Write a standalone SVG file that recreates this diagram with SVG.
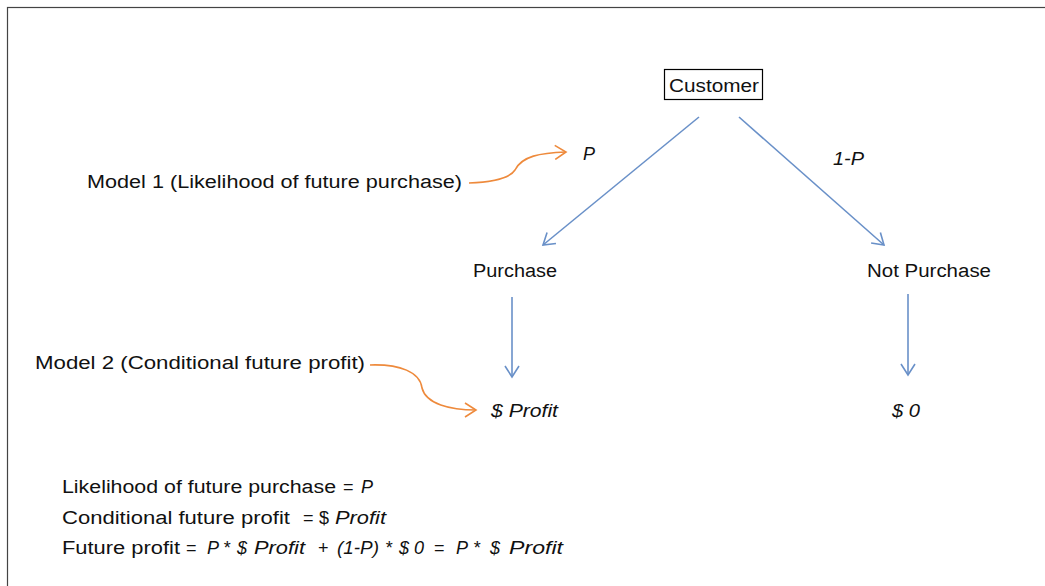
<svg xmlns="http://www.w3.org/2000/svg" width="1045" height="586" viewBox="0 0 1045 586">
<defs>
<style>
text{font-family:"Liberation Sans",Arial,sans-serif;font-size:18px;fill:#111}
.it{font-style:italic}
.blue{stroke:#6990c8;stroke-width:1.6;fill:none}
.orange{stroke:#ee8a3c;stroke-width:1.6;fill:none}
</style>
<marker id="ab" markerWidth="16" markerHeight="16" refX="12" refY="8" orient="auto" markerUnits="userSpaceOnUse">
<path d="M1,1 L12,8 L1,15" fill="none" stroke="#6990c8" stroke-width="1.6"/>
</marker>
<marker id="ao" markerWidth="16" markerHeight="16" refX="12" refY="8" orient="auto" markerUnits="userSpaceOnUse">
<path d="M1,1 L12,8 L1,15" fill="none" stroke="#ee8a3c" stroke-width="1.6"/>
</marker>
</defs>
<rect width="1045" height="586" fill="#fff"/>
<rect x="7.5" y="7.5" width="1060" height="600" fill="none" stroke="#444" stroke-width="1.2"/>

<g id="customer">
<rect x="664.5" y="69.5" width="98" height="30" fill="#fff" stroke="#000" stroke-width="1.2"/>
<text x="669" y="92" textLength="90" lengthAdjust="spacingAndGlyphs">Customer</text>
</g>
<g id="purchase"><text x="473" y="277" textLength="84" lengthAdjust="spacingAndGlyphs">Purchase</text></g>
<g id="not-purchase"><text x="867" y="277" textLength="124" lengthAdjust="spacingAndGlyphs">Not Purchase</text></g>
<g id="profit"><text class="it" x="491" y="417" textLength="67" lengthAdjust="spacingAndGlyphs">$ Profit</text></g>
<g id="zero"><text class="it" x="892" y="417" textLength="28" lengthAdjust="spacingAndGlyphs">$ 0</text></g>
<g id="label-p"><text class="it" x="583" y="160">P</text></g>
<g id="label-1p"><text class="it" x="833" y="165" textLength="31" lengthAdjust="spacingAndGlyphs">1-P</text></g>
<g id="model1"><text x="87" y="188" textLength="375" lengthAdjust="spacingAndGlyphs">Model 1 (Likelihood of future purchase)</text></g>
<g id="model2"><text x="35" y="369" textLength="330" lengthAdjust="spacingAndGlyphs">Model 2 (Conditional future profit)</text></g>

<g id="connectors">
<line class="blue" x1="699" y1="117" x2="543" y2="245" marker-end="url(#ab)"/>
<line class="blue" x1="739" y1="117" x2="884" y2="245" marker-end="url(#ab)"/>
<line class="blue" x1="512" y1="297" x2="512" y2="377" marker-end="url(#ab)"/>
<line class="blue" x1="908" y1="294" x2="908" y2="375" marker-end="url(#ab)"/>
<path class="orange" d="M469,183 C495,182 510,178 515,170 C522,156 540,153 566,152" marker-end="url(#ao)"/>
<path class="orange" d="M370,365 C400,364 420,372 422,388 C426,404 450,410 476,410" marker-end="url(#ao)"/>
</g>

<g id="equations">
<text x="62" y="493"><tspan textLength="274" lengthAdjust="spacingAndGlyphs">Likelihood of future purchase</tspan><tspan x="343">=</tspan><tspan class="it" x="361">P</tspan></text>
<text x="62" y="524"><tspan textLength="228" lengthAdjust="spacingAndGlyphs">Conditional future profit</tspan><tspan x="303">=</tspan><tspan x="319">$</tspan><tspan class="it" x="335" textLength="51" lengthAdjust="spacingAndGlyphs">Profit</tspan></text>
<text x="62" y="554"><tspan textLength="118" lengthAdjust="spacingAndGlyphs">Future profit</tspan><tspan x="186">=</tspan><tspan class="it" x="207">P</tspan><tspan class="it" x="223">*</tspan><tspan class="it" x="237">$</tspan><tspan class="it" x="254" textLength="51" lengthAdjust="spacingAndGlyphs">Profit</tspan><tspan x="318">+</tspan><tspan class="it" x="337" textLength="42" lengthAdjust="spacingAndGlyphs">(1-P)</tspan><tspan class="it" x="385">*</tspan><tspan class="it" x="399">$</tspan><tspan class="it" x="414">0</tspan><tspan x="434">=</tspan><tspan class="it" x="456">P</tspan><tspan class="it" x="473">*</tspan><tspan class="it" x="490">$</tspan><tspan class="it" x="509" textLength="54" lengthAdjust="spacingAndGlyphs">Profit</tspan></text>
</g>
</svg>
